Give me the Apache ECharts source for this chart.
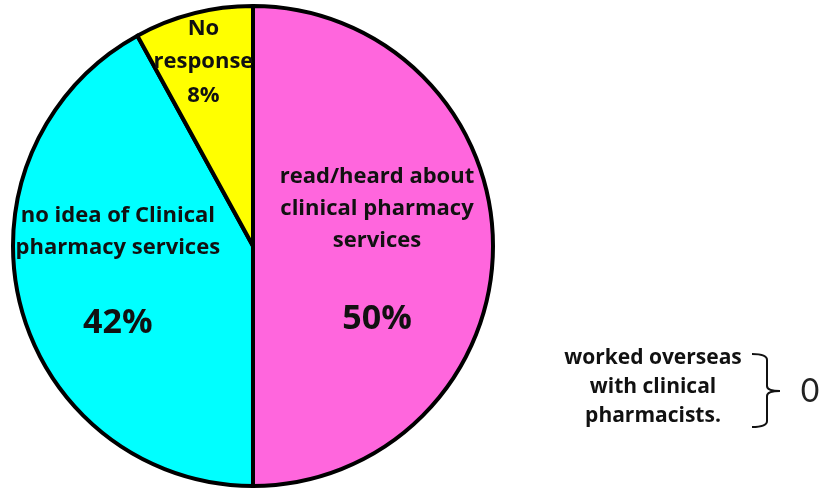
<!DOCTYPE html>
<html>
<head>
<meta charset="utf-8">
<script src="https://cdn.jsdelivr.net/npm/echarts@6/dist/echarts.min.js"></script>
<style>
  html, body { margin: 0; padding: 0; background: #ffffff; }
  #chart { width: 825px; height: 490px; }
</style>
</head>
<body>
<div id="chart"></div>
<script>
// Awareness of clinical pharmacy services (share of respondents, %)
const categories = [
  'read/heard about\nclinical pharmacy\nservices',
  'no idea of Clinical\npharmacy services',
  'No\nresponse'
];
const shares = [50, 42, 8];
const sliceColors = ['#FF66DD', '#00FFFF', '#FFFF00'];

// Side note: respondents who worked overseas with clinical pharmacists
const asideLines = ['worked overseas', 'with clinical', 'pharmacists.'];
const asideValue = [0];

const FONT = '"Open Sans", Lato, sans-serif';

// small nudges of each slice label away from its default inside anchor
const labelNudge = [[1, 25], [-16, 15], [-19, -65]];

const data = categories.map((name, i) => {
  const big = shares[i] >= 20;
  return {
    name: name,
    value: shares[i],
    itemStyle: { color: sliceColors[i] },
    label: big ? {
      formatter: '{name|{b}}\n{pct|{c}%}',
      rich: {
        name: { fontFamily: FONT, fontWeight: 'bold', fontSize: 22, lineHeight: 32, color: '#111' },
        pct: { fontFamily: FONT, fontWeight: 'bold', fontSize: 34, lineHeight: i === 0 ? 124 : 120, color: '#111' }
      }
    } : {
      formatter: '{s|{b}\n{c}%}',
      rich: {
        s: { fontFamily: FONT, fontWeight: 'bold', fontSize: 22, lineHeight: 33.5, color: '#111' }
      }
    }
  };
});

// curly brace beside the side note
const braceStyle = { fill: null, stroke: '#111', lineWidth: 2 };
const brace = [
  { type: 'bezierCurve', shape: { x1: 752, y1: 354, cpx1: 767, cpy1: 354, x2: 767, y2: 360 } },
  { type: 'line', shape: { x1: 767, y1: 360, x2: 767, y2: 386 } },
  { type: 'bezierCurve', shape: { x1: 767, y1: 386, cpx1: 767, cpy1: 391, x2: 780, y2: 391 } },
  { type: 'bezierCurve', shape: { x1: 780, y1: 391, cpx1: 767, cpy1: 391, x2: 767, y2: 396 } },
  { type: 'line', shape: { x1: 767, y1: 396, x2: 767, y2: 421 } },
  { type: 'bezierCurve', shape: { x1: 767, y1: 421, cpx1: 767, cpy1: 427, x2: 752, y2: 427 } }
].map(el => Object.assign(el, { style: braceStyle, silent: true }));

const chart = echarts.init(document.getElementById('chart'), null, { renderer: 'canvas' });

chart.setOption({
  backgroundColor: '#ffffff',
  animation: false,
  series: [{
    type: 'pie',
    center: [253, 246],
    radius: [0, 240],
    startAngle: 90,
    clockwise: true,
    silent: true,
    avoidLabelOverlap: false,
    itemStyle: { borderColor: '#000000', borderWidth: 4 },
    label: { show: true, position: 'inside', rotate: 0, align: 'center' },
    labelLine: { show: false },
    labelLayout: function (params) {
      const n = labelNudge[params.dataIndex] || [0, 0];
      return { dx: n[0], dy: n[1] };
    },
    emphasis: { disabled: true },
    data: data
  }],
  graphic: [
    {
      type: 'text',
      x: 653, y: 387,
      silent: true,
      style: {
        text: asideLines.join('\n'),
        font: 'bold 21px ' + FONT,
        fill: '#111',
        align: 'center',
        verticalAlign: 'middle',
        lineHeight: 29
      }
    },
    ...brace,
    {
      type: 'text',
      x: 810, y: 392,
      silent: true,
      style: {
        text: String(asideValue[0]),
        font: '32px Lato, sans-serif',
        fill: '#222',
        align: 'center',
        verticalAlign: 'middle'
      }
    }
  ]
});
</script>
</body>
</html>
